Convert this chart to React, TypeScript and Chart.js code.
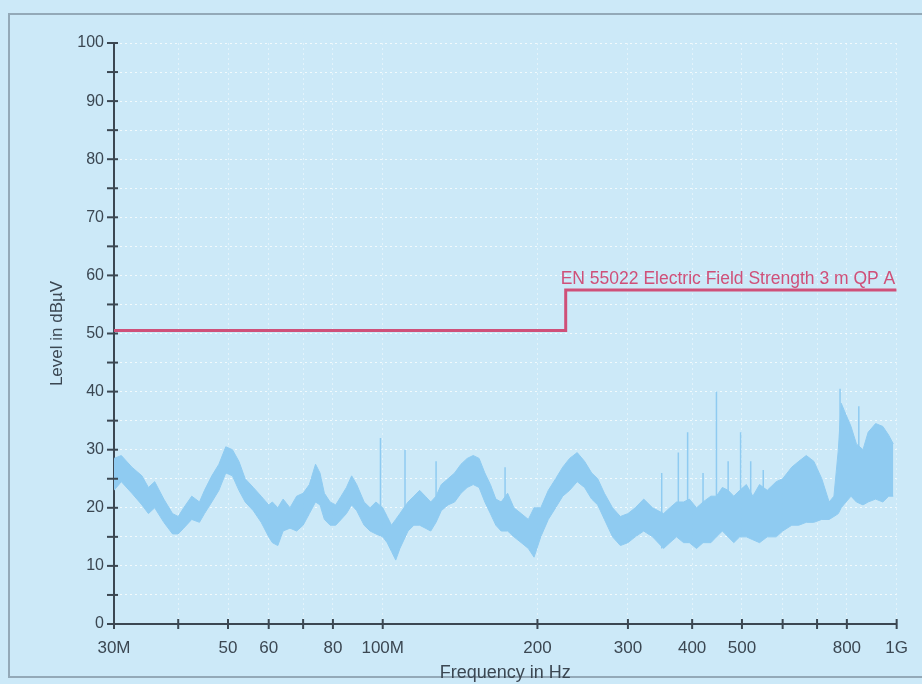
import React, { useEffect, useRef } from "react";
import { Chart, registerables } from "chart.js";

Chart.register(...registerables);

// Noise trace envelope (frequency in MHz, level in dBµV)
const freqMHz = [
  30, 31, 32.5, 34, 35, 36, 37.5, 39, 40, 41, 42.5, 44, 45, 46.5, 48, 49.5, 51, 52.5, 54, 56,
  58, 60, 61, 62.5, 64, 66, 68, 70, 72, 74, 75.5, 77, 79, 81, 83, 85, 87, 89, 92, 94.5,
  97, 100, 102, 104, 106, 108, 112, 115, 118, 121, 124, 127, 130, 134, 138, 142, 146, 150, 154, 158,
  162, 166, 170, 175, 180, 186, 192, 197, 203, 210, 217, 224, 231, 239, 247, 255, 262, 270, 280, 290,
  300, 310, 322, 335, 352, 362, 373, 385, 395, 408, 420, 435, 446, 458, 470, 482, 495, 510, 525, 541,
  560, 583, 600, 625, 645, 667, 690, 715, 739, 755, 770, 780, 797, 815, 835, 860, 880, 910, 940, 965, 985,
];
const levelMax = [
  28.5, 29, 27, 25.5, 23.5, 24.5, 21.5, 19, 18.5, 20, 22, 21, 23, 25.5, 27.5, 30.5, 30, 28, 25, 23.5,
  22, 20.5, 21, 20, 21.5, 20, 22, 22.5, 24, 27.5, 26, 22.5, 21, 20.5, 22, 23.5, 25.5, 24, 21, 20,
  21, 20, 18.5, 17, 18, 19, 21, 22, 23, 22, 21, 22, 24, 25, 26, 27.5, 28.5, 29, 28.5, 26,
  24, 21.5, 21, 22.5, 20, 19, 18, 20, 20, 23, 25, 27, 28.5, 29.5, 28, 26, 25, 22.5, 20, 18.5,
  19, 20, 21.5, 20, 19, 20, 21, 21, 21.5, 20, 21, 22, 22, 23.5, 23, 22, 23, 24, 22, 24,
  23, 24.5, 25, 27, 28, 29, 28, 25, 21, 22, 30, 38, 36, 34, 31, 30, 33, 34.5, 34, 32.5, 31,
];
const levelMin = [
  23, 24.5, 22.5, 20.5, 19, 20, 17.5, 15.5, 15.5, 16.5, 18, 17.5, 19, 21, 23, 26, 25.5, 23, 21, 19.5,
  17.5, 15, 14, 13.5, 16, 16.5, 16, 17, 19, 21, 20.5, 18, 17, 17, 18, 19, 20.5, 19.5, 17, 16,
  15.5, 15, 14, 12.5, 11, 13, 16, 17, 17, 16.5, 16, 17.5, 19.5, 20.5, 21, 22.5, 23.5, 24, 23.5, 21,
  19, 17, 16, 16, 15, 14, 13, 11.5, 15, 18, 20, 22, 23, 24.5, 23.5, 21.5, 20.5, 18, 15, 13.5,
  14, 15, 16, 15, 13, 14, 15, 14, 14, 13, 14, 14, 15, 16, 15, 14, 15, 15, 14.5, 14,
  15, 15, 16, 17, 17, 17.5, 17.5, 18, 18, 18.5, 19, 20, 21, 22, 21, 20.5, 21, 21.5, 21, 22, 22,
];

// Narrow interference spikes
const spikeFreqMHz = [99, 110.5, 127, 173, 349, 376, 392, 420, 446, 470, 497, 520, 550, 776, 844];
const spikeTop = [32, 30, 28, 27, 26, 29.5, 33, 26, 40, 28, 33, 28, 26.5, 40.5, 37.5];
const spikeBase = [16, 16, 18, 16, 13, 15, 14, 14, 15, 15, 15, 15, 15, 20, 21];

// Limit line
const limitFreqMHz = [30, 227, 227, 1000];
const limitLevel = [50.5, 50.5, 57.5, 57.5];
const limitLabel = "EN 55022 Electric Field Strength 3 m QP A";

// Axes
const xTickValues = [30, 40, 50, 60, 70, 80, 100, 200, 300, 400, 500, 600, 700, 800, 1000];
const xTickLabels = ["30M", "", "50", "60", "", "80", "100M", "200", "300", "400", "500", "", "", "800", "1G"];
const yMin = 0;
const yMax = 100;
const yStep = 5;
const xTitle = "Frequency in Hz";
const yTitle = "Level in dBµV";

export default function App() {
  const ref = useRef<HTMLCanvasElement>(null);

  useEffect(() => {
    const canvas = ref.current;
    if (!canvas) return;
    const axisColor = "#3b4752";
    const limitColor = "#cf5079";
    const traceColor = "#8fcbf1";
    const fontFamily = "'Liberation Sans', Arial, Helvetica, sans-serif";

    const minPts = freqMHz.map((f, i) => ({ x: f, y: levelMin[i] }));
    const maxPts = freqMHz.map((f, i) => ({ x: f, y: levelMax[i] }));
    const spikePts: any[] = [];
    spikeFreqMHz.forEach((f, i) => {
      spikePts.push({ x: f, y: spikeBase[i] }, { x: f, y: spikeTop[i] }, { x: f, y: null });
    });
    const limitPts = limitFreqMHz.map((f, i) => ({ x: f, y: limitLevel[i] }));

    const decor = {
      id: "decor",
      afterDraw(chart: any) {
        const ctx = chart.ctx;
        const xs = chart.scales.x;
        const ys = chart.scales.y;
        ctx.save();
        ctx.strokeStyle = axisColor;
        ctx.lineWidth = 2;
        const x0 = xs.left;
        ys.ticks.forEach((t: any) => {
          const y = ys.getPixelForValue(t.value);
          ctx.beginPath();
          ctx.moveTo(x0 - 7, y);
          ctx.lineTo(x0 + 4, y);
          ctx.stroke();
        });
        const y0 = ys.bottom;
        xTickValues.forEach((v) => {
          const x = xs.getPixelForValue(v);
          ctx.beginPath();
          ctx.moveTo(x, y0 - 5);
          ctx.lineTo(x, y0 + 5);
          ctx.stroke();
        });
        // limit label
        ctx.fillStyle = limitColor;
        ctx.font = `17.5px ${fontFamily}`;
        ctx.textAlign = "left";
        ctx.textBaseline = "alphabetic";
        const lx = xs.getPixelForValue(limitFreqMHz[1]) - 5;
        const ly = ys.getPixelForValue(limitLevel[2]) - 6;
        ctx.fillText(limitLabel, lx, ly);
        ctx.restore();
      },
    };

    const chart = new Chart(canvas, {
      type: "line",
      data: {
        datasets: [
          { label: "min", data: minPts, borderColor: traceColor, borderWidth: 1, pointRadius: 0, fill: false, tension: 0 },
          { label: "max", data: maxPts, borderColor: traceColor, backgroundColor: traceColor, borderWidth: 1, pointRadius: 0, fill: "-1", tension: 0 },
          { label: "spikes", data: spikePts, borderColor: traceColor, borderWidth: 1.5, pointRadius: 0, spanGaps: false, fill: false },
          { label: "limit", data: limitPts, borderColor: limitColor, borderWidth: 3, pointRadius: 0, fill: false },
        ] as any,
      },
      options: {
        responsive: false,
        animation: false,
        layout: { padding: { left: 0, right: 22, top: 43, bottom: 0 } },
        plugins: { legend: { display: false }, tooltip: { enabled: false } },
        scales: {
          x: {
            type: "logarithmic",
            min: 30,
            max: 1000,
            afterBuildTicks: (s: any) => {
              s.ticks = xTickValues.map((v) => ({ value: v }));
            },
            afterFit: (s: any) => {
              s.height = 60;
            },
            ticks: {
              autoSkip: false,
              maxRotation: 0,
              minRotation: 0,
              padding: 14,
              color: axisColor,
              font: { family: fontFamily, size: 17 },
              callback: (_v: any, i: number) => xTickLabels[i],
            },
            grid: { drawTicks: false, color: "rgba(255,255,255,0.45)", lineWidth: 1 },
            border: { display: true, color: axisColor, width: 2, dash: [2, 3] },
            title: {
              display: true,
              text: xTitle,
              color: axisColor,
              font: { family: fontFamily, size: 18 },
              padding: { top: 0, bottom: 0 },
            },
          },
          y: {
            type: "linear",
            min: yMin,
            max: yMax,
            afterFit: (s: any) => {
              s.width = 114;
            },
            ticks: {
              stepSize: yStep,
              padding: 10,
              color: axisColor,
              font: { family: fontFamily, size: 16 },
              callback: (v: any) => (Number(v) % 10 === 0 ? String(v) : ""),
            },
            grid: { drawTicks: false, color: "rgba(255,255,255,0.75)", lineWidth: 1 },
            border: { display: true, color: axisColor, width: 2, dash: [2, 3] },
            title: {
              display: true,
              text: yTitle,
              color: axisColor,
              font: { family: fontFamily, size: 17 },
              padding: { top: 47, bottom: 0 },
            },
          },
        },
      } as any,
      plugins: [decor],
    });
    return () => chart.destroy();
  }, []);

  return (
    <div style={{ position: "fixed", left: 0, top: 0, width: 922, height: 684, background: "#cce9f8", overflow: "hidden" }}>
      <div
        style={{
          position: "absolute",
          left: 8,
          top: 13,
          width: 940,
          height: 665,
          border: "2px solid #93a9b8",
          boxSizing: "border-box",
        }}
      />
      <canvas ref={ref} width={922} height={684} style={{ position: "absolute", left: 0, top: 0 }} />
    </div>
  );
}
